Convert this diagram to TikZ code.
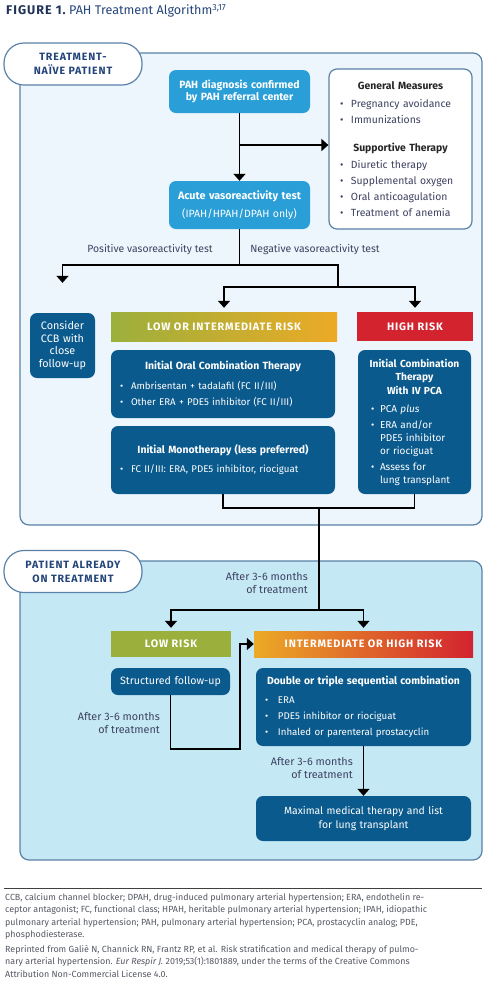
\documentclass[tikz,border=0pt]{standalone}
\usepackage{fontspec}
\setmainfont{Fira Sans}
\newfontfamily\capsfont[LetterSpace=8]{Fira Sans}
\usetikzlibrary{arrows.meta,positioning,calc}

\definecolor{navybox}{HTML}{0B5A8D}
\definecolor{cyanbox}{HTML}{2A9ED7}
\definecolor{paneledge}{HTML}{5A82A8}
\definecolor{naivefill}{HTML}{EDF6FC}
\definecolor{treatfill}{HTML}{C5E8F5}
\definecolor{headblue}{HTML}{24457A}
\definecolor{titlenavy}{HTML}{1F3358}
\definecolor{labelgray}{HTML}{3E4260}
\definecolor{olive}{HTML}{9BB03C}
\definecolor{amber}{HTML}{ECAA26}
\definecolor{riskred}{HTML}{D3232F}
\definecolor{footgray}{HTML}{555864}

\setlength{\parindent}{0pt}
\newlength{\bltw}
\setlength{\bltw}{11pt}
\newcommand{\blt}[1]{\par\hangindent=\bltw\hangafter=1\noindent\makebox[\bltw][l]{\textbullet}#1}
\newcommand{\boxhead}{\bfseries\fontsize{10.4}{16}\selectfont}

\begin{document}
\begin{tikzpicture}[x=1pt,y=-1pt,
    panel/.style={draw=paneledge,line width=1.2pt,rounded corners=9pt},
    tabpill/.style={draw=paneledge,line width=1.2pt,fill=white,rounded corners=20pt,minimum width=138pt,minimum height=42pt,align=center,text=headblue,font=\capsfont\bfseries\fontsize{10.6}{14}\selectfont},
    darkbox/.style={fill=navybox,text=white,rounded corners=7pt,inner xsep=9pt,inner ysep=3pt,font=\fontsize{9.7}{16}\selectfont},
    lightbox/.style={darkbox,fill=cyanbox,align=center},
    listbox/.style={draw=paneledge,line width=1.2pt,fill=white,rounded corners=8pt,inner xsep=11pt,text=labelgray,font=\fontsize{10.4}{16}\selectfont},
    riskbar/.style={inner sep=0pt,text=white,font=\capsfont\bfseries\fontsize{10.8}{11}\selectfont},
    note/.style={inner sep=0pt,text=labelgray,font=\fontsize{10.4}{12.5}\selectfont},
    wire/.style={line width=1.6pt},
    arr/.style={wire,-{Triangle[length=7pt,width=12pt]}}]
  \useasboundingbox (0,0) rectangle (495,997);

  \node[anchor=west,inner sep=0pt] (title) at (6,11) {{\capsfont\bfseries\fontsize{12.6}{14}\selectfont\color{titlenavy}FIGURE 1.} {\fontsize{12.6}{14}\selectfont\color{headblue}PAH Treatment Algorithm\textsuperscript{3,17}}};

  % treatment-naive part
  \draw[panel,fill=naivefill] (20,53) rectangle (482,525);
  \node[tabpill] (naive) at (73,64) {TREATMENT-\\NAÏVE PATIENT};

  \node[lightbox,text width=127pt,inner xsep=7pt,minimum height=43pt,font=\bfseries\fontsize{10.5}{12}\selectfont] (diag) at (239.5,91.5) {PAH diagnosis confirmed\\by PAH referral center};
  \node[listbox,text width=121pt,minimum height=160pt] (gm) at (400.5,149) {%
    {\centering\bfseries\color{black!85}General Measures\par}\vspace{2pt}
    \blt{Pregnancy avoidance}
    \blt{Immunizations}\par\vspace{12pt}
    {\centering\bfseries\color{black!85}Supportive Therapy\par}\vspace{1pt}
    \blt{Diuretic therapy}
    \blt{Supplemental oxygen}
    \blt{Oral anticoagulation}
    \blt{Treatment of anemia}\par};
  \node[lightbox,text width=131pt,inner xsep=5pt,minimum height=48pt,font=\fontsize{10.5}{18}\selectfont] (acute) at (239.5,205) {\mbox{\bfseries\fontsize{10.8}{18}\selectfont Acute vasoreactivity test}\\(IPAH/HPAH/DPAH only)};

  \node[note] (pos) at (150,250) {Positive vasoreactivity test};
  \node[note] (neg) at (315,250) {Negative vasoreactivity test};

  \node[darkbox,text width=59pt,inner xsep=3pt,minimum height=65pt,align=center,font=\fontsize{10.8}{12.7}\selectfont] (ccb) at (62.5,345.5) {Consider\\CCB with\\close\\follow-up};
  \node[riskbar,minimum width=226pt,minimum height=29pt,left color=olive,right color=amber] (lowint) at (224,326.5) {LOW OR INTERMEDIATE RISK};
  \node[riskbar,minimum width=116pt,minimum height=29pt,fill=riskred] (high) at (415,326.5) {HIGH RISK};

  \node[darkbox,text width=206pt,minimum height=68pt] (oral) at (223,384) {%
    {\centering\boxhead Initial Oral Combination Therapy\par}\vspace{4pt}
    \blt{Ambrisentan + tadalafil (FC II/III)}
    \blt{Other ERA + PDE5 inhibitor (FC II/III)}\par};
  \node[darkbox,text width=206pt,minimum height=68pt] (mono) at (223,460) {%
    {\centering\boxhead Initial Monotherapy (less preferred)\par}\vspace{3pt}
    \blt{FC II/III: ERA, PDE5 inhibitor, riociguat}\par};
  \node[darkbox,text width=103pt,inner xsep=5pt,minimum height=144pt,font=\fontsize{10}{13}\selectfont] (hibox) at (414.5,422) {%
    {\centering\bfseries\fontsize{10.2}{13.5}\selectfont Initial Combination\\Therapy\\With IV PCA\par}\vspace{5pt}
    \setlength{\bltw}{9pt}\leftskip=8pt
    \blt{PCA \textit{plus}}\par\vspace{3pt}
    \blt{ERA and/or\newline PDE5 inhibitor\newline or riociguat}\par\vspace{3pt}
    \blt{Assess for\newline lung transplant}\par};

  % patient already on treatment
  \draw[panel,fill=treatfill] (20,561) rectangle (482,860);
  \node[tabpill] (ontreat) at (73,571.5) {PATIENT ALREADY\\ON TREATMENT};

  \node[note,align=right,anchor=east,font=\fontsize{10.8}{13}\selectfont] (later1) at (308,583.5) {After 3-6 months\\of treatment};
  \node[riskbar,minimum width=120pt,minimum height=26pt,fill=olive] (lowrisk) at (171,644) {LOW RISK};
  \node[riskbar,minimum width=219pt,minimum height=26pt,left color=amber,right color=riskred] (ihrisk) at (363.5,644) {INTERMEDIATE OR HIGH RISK};

  \node[darkbox,text width=103pt,inner xsep=8pt,minimum height=27pt,align=center,font=\fontsize{10.6}{12}\selectfont] (sfu) at (170.5,681.5) {Structured follow-up};
  \node[darkbox,text width=197pt,minimum height=78pt] (dbl) at (363.5,707) {%
    {\centering\boxhead Double or triple sequential combination\par}\vspace{3pt}
    \setlength{\bltw}{13pt}
    \blt{ERA}
    \blt{PDE5 inhibitor or riociguat}
    \blt{Inhaled or parenteral prostacyclin}\par};
  \node[note,align=right,anchor=east,font=\fontsize{10.8}{13}\selectfont] (later2) at (160,723.5) {After 3-6 months\\of treatment};
  \node[note,align=right,anchor=east,font=\fontsize{10.8}{12.5}\selectfont] (later3) at (353,768) {After 3-6 months\\of treatment};
  \node[darkbox,text width=197pt,minimum height=45pt,align=center,font=\fontsize{10.4}{14}\selectfont] (maxmed) at (363.5,818.5) {Maximal medical therapy and list\\for lung transplant};

  % connectors
  \coordinate (gmfork) at (239.5,145);
  \coordinate (vsplit) at (239.5,265);
  \coordinate (negsplit) at (338,287);
  \coordinate (ccbtip) at ([yshift=30pt]ccb.north);
  \coordinate (merge) at (319,508);
  \coordinate (fork2) at (319,610);
  \coordinate (loopend) at (240,749);

  \draw[arr] (diag) -- (acute);
  \draw[arr] (gmfork) -- (gmfork -| gm.west);
  \draw[wire] (acute) -- (vsplit);
  \draw[arr] (vsplit) -| (ccbtip);
  \draw[wire] (vsplit) -| (negsplit);
  \draw[arr,shorten >=4pt] (negsplit) -| (lowint);
  \draw[arr,shorten >=4pt] (negsplit) -| (high);
  \draw[wire] (mono) |- (merge) -| (hibox);
  \draw[wire] (merge) -- (fork2);
  \draw[arr,shorten >=3pt] (fork2) -| (lowrisk);
  \draw[arr,shorten >=3pt] (fork2) -| (ihrisk);
  \draw[arr] (sfu) |- (loopend) |- (ihrisk);
  \draw[arr] (dbl) -- (maxmed);

  % legend
  \draw[line width=1pt,black!75] (4,888) -- (482,888);
  \node[anchor=north west,inner sep=0pt,align=left,text=footgray,font=\fontsize{8.9}{12.6}\selectfont] (legend) at (5,893) {CCB, calcium channel blocker; DPAH, drug-induced pulmonary arterial hypertension; ERA, endothelin re-\\ceptor antagonist; FC, functional class; HPAH, heritable pulmonary arterial hypertension; IPAH, idiopathic\\pulmonary arterial hypertension; PAH, pulmonary arterial hypertension; PCA, prostacyclin analog; PDE,\\phosphodiesterase.};
  \node[anchor=north west,inner sep=0pt,align=left,text=footgray,font=\fontsize{8.9}{12.6}\selectfont] (source) at (5,945) {Reprinted from Galiè N, Channick RN, Frantz RP, et al. Risk stratification and medical therapy of pulmo-\\nary arterial hypertension. \textit{Eur Respir J.} 2019;53(1):1801889, under the terms of the Creative Commons\\Attribution Non-Commercial License 4.0.};
\end{tikzpicture}
\end{document}
